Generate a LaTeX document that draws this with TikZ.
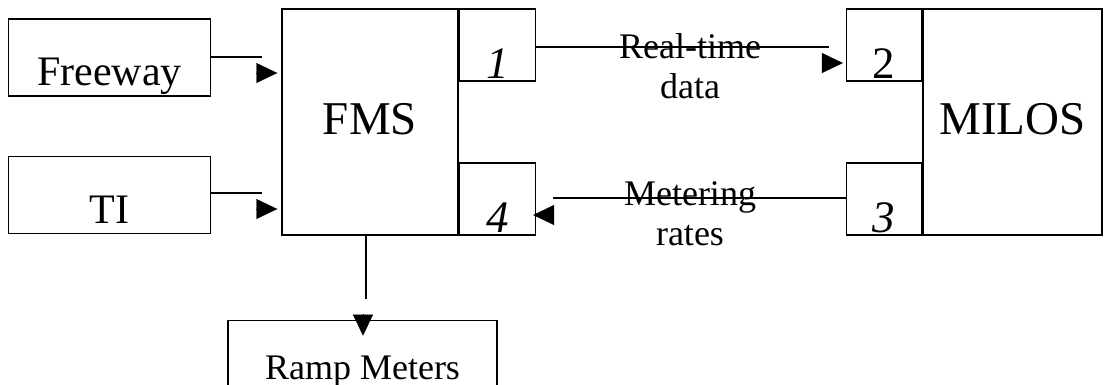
\documentclass[tikz,border=0pt]{standalone}
\usepackage{fontspec}
\setmainfont{Liberation Serif}
\usetikzlibrary{positioning,arrows.meta}

\begin{document}
\begin{tikzpicture}[%
    x=1pt, y=-1pt,
    source/.style={%
        draw,
        line width=1.4pt,
        inner sep=0pt,
        minimum width=202pt,
        text height=67pt,
        text depth=10pt,
        font=\fontsize{42}{42}\selectfont
    },
    system/.style={%
        draw,
        line width=1.4pt,
        inner sep=0pt,
        text height=126pt,
        text depth=100pt,
        font=\fontsize{47}{47}\selectfont
    },
    port/.style={%
        draw,
        line width=1.4pt,
        inner sep=0pt,
        minimum width=76pt,
        text height=70pt,
        text depth=2pt,
        font=\fontsize{45}{45}\selectfont\itshape
    },
    sink/.style={%
        draw,
        line width=1.4pt,
        inner sep=0pt,
        minimum width=269pt,
        text height=59pt,
        text depth=6pt,
        font=\fontsize{36}{36}\selectfont
    },
    flow/.style={%
        inner sep=0pt,
        align=center,
        font=\fontsize{36}{40}\selectfont
    },
    link/.style={line width=1.4pt},
    head/.style={-{Triangle[length=21pt,width=20pt]}, shorten >=3pt}
]
\useasboundingbox (0,0) rectangle (1104,385);

% Systems
\node[system, minimum width=176pt] (fms) at (370,122) {FMS};
\node[system, minimum width=179pt] (milos) at (1012.5,122) {MILOS};

% Ports
\node[port, anchor=north west] (port1) at (fms.north east) {1};
\node[port, anchor=south west] (port4) at (fms.south east) {4};
\node[port, anchor=north east, minimum width=75pt] (port2) at (milos.north west) {\upshape 2};
\node[port, anchor=south east, minimum width=75pt] (port3) at (milos.south west) {3};

% Inputs
\node[source, below left=10pt and 70pt of fms.north west] (freeway) {Freeway};
\node[source, below=59pt of freeway] (ti) {TI};

% Output
\node[sink, below=84pt of fms, xshift=-7.5pt] (ramp) {Ramp Meters};

% Flow labels
\node[flow, anchor=north] (realtime) at (690,33) {Real-time\\data};
\node[flow, anchor=north] (metering) at (690,181) {Metering\\rates};

% Connectors
\coordinate (freewayEnd) at (262,57);
\coordinate (freewayHead) at (257,73);
\draw[link] (freeway.east |- freewayEnd) -- (freewayEnd);
\draw[head, shorten >=4pt] (freewayHead) -- (fms.west |- freewayHead);

\coordinate (tiEnd) at (262,193);
\coordinate (tiHead) at (257,209);
\draw[link] (ti.east |- tiEnd) -- (tiEnd);
\draw[head, shorten >=4pt] (tiHead) -- (fms.west |- tiHead);

\coordinate (realtimeEnd) at (829,47);
\coordinate (realtimeHead) at (824,63);
\draw[link] (port1.east |- realtimeEnd) -- (realtimeEnd);
\draw[head] (realtimeHead) -- (port2.west |- realtimeHead);

\coordinate (meteringEnd) at (553,198);
\coordinate (meteringHead) at (552,215);
\draw[link] (port3.west |- meteringEnd) -- (meteringEnd);
\draw[head, shorten >=-3pt] (meteringHead) -- (port4.east |- meteringHead);

\coordinate (rampEnd) at (366,299);
\coordinate (rampHead) at (363,314);
\draw[link] (fms.south -| rampEnd) -- (rampEnd);
\draw[head, shorten >=-16pt] (rampHead) -- (rampHead |- ramp.north);

\end{tikzpicture}
\end{document}
